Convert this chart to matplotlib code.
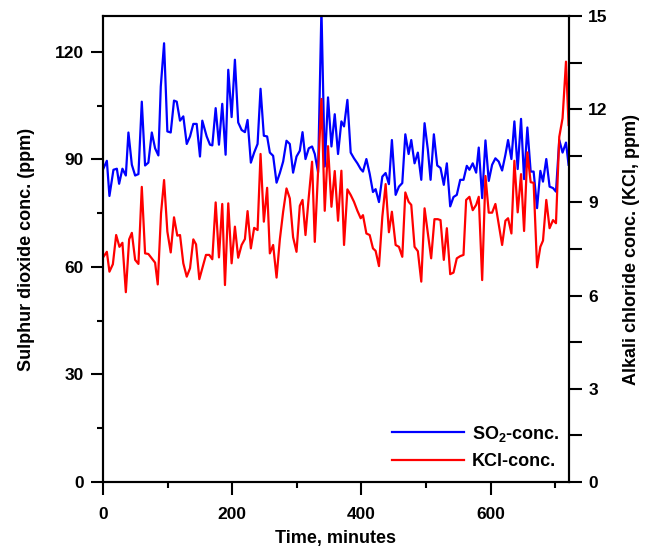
import matplotlib
matplotlib.use("Agg")
import matplotlib.pyplot as plt
from matplotlib.ticker import MultipleLocator

plt.rcParams['font.family'] = ['Liberation Sans', 'DejaVu Sans']
plt.rcParams['font.weight'] = 'bold'
plt.rcParams['mathtext.fontset'] = 'custom'
plt.rcParams['mathtext.rm'] = 'Liberation Sans:bold'
plt.rcParams['mathtext.default'] = 'rm'

# SO2 (left axis, ppm)
t_so2 = [0.5, 5.7, 9.7, 15.9, 21.2, 24.7, 29.8, 35.1, 39.1, 44.4, 49.5, 54.6, 59.8,
         64.9, 70, 75.3, 80.4, 85.5, 89.2, 94.3, 99.4, 104.6, 109.7, 113.9, 119, 124.1,
         129.4, 134.5, 139.6, 144.8, 149.9, 153.5, 160.3, 165.4, 169, 174.2, 179.3,
         184.4, 189.6, 193.7, 198.9, 204, 209.1, 214.4, 219.5, 223.6, 228.7, 233.8,
         239.1, 243.7, 248.8, 253.9, 258.1, 263.2, 268.5, 273.6, 278.7, 283.9, 289,
         294.1, 299.4, 304.5, 308.7, 313.3, 318.4, 323.5, 327.7, 332.8, 338, 343.1,
         348.2, 353.5, 358.6, 363.7, 368.9, 373.0, 378.2, 383.3, 388.4, 393.7, 398.8,
         402.3, 407.6, 412.7, 417.8, 421.9, 427.1, 432.3, 437.4, 442.5, 447.1, 452.9,
         458, 463.2, 467.9, 473, 477.1, 482.2, 487.3, 492.6, 497.7, 502.8, 507, 512.1,
         517.3, 522.4, 527.5, 532.2, 537.4, 542.5, 547.6, 552.9, 558, 563.1, 567.2,
         572.3, 577.6, 581.6, 586.9, 592, 597.1, 602.3, 607.4, 612.5, 617.8, 622.9,
         627, 632.2, 636.8, 641.9, 647.1, 651.8, 656.9, 662, 666.6, 671.9, 677, 681.1,
         686.2, 691.3, 696.6, 701.2, 706.3, 711.4, 716.7, 720.7]
so2 = [87.5, 89.6, 79.8, 87.1, 87.4, 83.2, 87.4, 85.5, 97.5, 88.5, 85.5, 85.9, 106.1,
       88.3, 89.1, 97.5, 93.1, 91.1, 110.3, 122.4, 97.8, 97.5, 106.4, 106.1, 100.8, 102,
       94.3, 96.4, 99.9, 99.9, 90.8, 100.8, 96.4, 94.1, 93.9, 104.3, 94.1,
       105.5, 91.3, 115, 101.8, 117.8, 100.3, 98.2, 97.6, 101, 89.1, 91.9,
       94.3, 109.7, 96.6, 96.4, 91.9, 91, 83.5, 86.2, 89.4, 95.2, 94.3,
       86.3, 90.8, 92.4, 97.6, 90.1, 93.1, 93.6, 91.5, 86.4, 132, 88,
       107.3, 93.6, 102.6, 91.5, 100.6, 99.2, 106.6, 91.9, 90.3, 88.9, 87.3,
       86.6, 90.1, 86, 80.9, 81.7, 78.1, 85.2, 86.2, 83.1, 95.4, 80.1,
       82.4, 83.4, 97, 91.5, 95.4, 88.9, 91.9, 84.3, 100.1, 92.7, 84.3, 97,
       88.3, 87.6, 82.9, 88.9, 76.9, 79.5, 80.1, 84.3, 84.3, 88.2, 87.1,
       88.9, 86.3, 93.3, 79.2, 95.3, 84, 88.5, 90.3, 89.4, 86.9, 91.3,
       95.4, 90.1, 100.6, 87.3, 101.3, 84.5, 98.9, 86.6, 86.6, 76.4, 86.8, 83.8,
       90.1, 82.4, 82, 81, 95.4, 91.9, 94.7, 88.5]

# KCl (right axis, ppm)
t_kcl = [0.5, 5.7, 9.7, 15.0, 20.1, 25.2, 29.8, 35.1, 40.2, 44.4, 49.5, 54.6, 59.8,
         64.9, 70, 75.3, 80.4, 84.5, 89.6, 94.3, 99.4, 104.6, 109.7, 114.8, 119, 124.1,
         129.4, 134.5, 139.6, 143.8, 148.9, 154.1, 159.2, 164.3, 169, 174.2, 179.3,
         184.4, 188.6, 193.7, 198.9, 204, 209.1, 214.4, 219.5, 223.6, 228.7, 233.8,
         239.1, 243.7, 248.8, 253.9, 258.1, 263.2, 268.5, 273.6, 278.7, 283.9, 289,
         294.1, 299.4, 304.5, 308.7, 313.3, 318.4, 323.5, 327.7, 332.8, 338, 343.1,
         348.2, 353.5, 358.6, 363.7, 368.9, 373, 378.2, 383.3, 388.4, 393.7, 398.8,
         402.3, 407.6, 412.7, 417.8, 421.9, 427.1, 432.3, 437.4, 442.5, 447.1, 452.9,
         458, 463.2, 467.9, 473, 477.1, 482.2, 487.3, 492.6, 497.7, 502.8, 507.9, 513,
         518.2, 522.4, 527.5, 532.2, 537.4, 542.5, 547.6, 552.9, 558, 562.1, 567.2,
         572.3, 577.6, 581.6, 586.9, 592, 597.1, 602.3, 607.4, 612.5, 617.8, 622.9,
         627, 632.2, 636.8, 641.9, 647.1, 651.8, 656.9, 662, 666.6, 671.9, 677, 681.1,
         686.2, 691.3, 696.6, 701.2, 706.3, 711.4, 716.7, 720.7]
kcl = [7.25, 7.41, 6.77, 7.01, 7.95, 7.57, 7.70, 6.11, 7.81, 8.02, 7.15, 7.02, 9.50,
       7.36, 7.34, 7.20, 7.06, 6.36, 8.65, 9.72, 8.06, 7.39, 8.52, 7.93, 7.95, 7.04,
       6.61, 6.88, 7.81, 7.65, 6.53, 6.93, 7.31, 7.31, 7.17, 9.00, 7.23,
       8.95, 6.34, 8.97, 7.04, 8.22, 7.22, 7.63, 7.82, 8.72, 7.52, 8.18,
       8.11, 10.56, 8.38, 9.47, 7.36, 7.63, 6.58, 7.81, 8.70, 9.45, 9.13,
       7.88, 7.41, 8.89, 9.08, 7.95, 9.18, 10.31, 7.73, 10.04, 12.33, 8.73,
       10.81, 8.86, 10.01, 8.41, 10.02, 7.63, 9.42, 9.24, 9.02, 8.73, 8.49,
       8.59, 8.00, 7.95, 7.52, 7.44, 6.95, 8.54, 9.59, 8.04, 8.70, 7.63,
       7.57, 7.25, 9.32, 9.02, 8.92, 7.57, 7.43, 6.45, 8.81, 8.00, 7.20, 8.46,
       8.46, 8.43, 7.15, 8.17, 6.69, 6.74, 7.20, 7.27, 7.31, 9.08, 9.18,
       8.75, 8.92, 9.18, 6.50, 9.85, 8.67, 8.67, 8.95, 8.30, 7.63, 8.41,
       8.49, 8.00, 10.34, 8.68, 9.91, 8.08, 10.61, 9.65, 9.63, 6.91, 7.57, 7.77,
       9.08, 8.17, 8.43, 8.33, 11.11, 11.71, 13.53, 11.49]

fig = plt.figure(figsize=(6.53, 5.48), dpi=100)
ax = fig.add_axes([0.158, 0.1204, 0.713, 0.8504])
ax2 = ax.twinx()

l1, = ax.plot(t_so2, so2, color='#0000ff', lw=1.6, label=r'SO$_2$-conc.')
l2, = ax2.plot(t_kcl, kcl, color='#ff0000', lw=1.6, label='KCl-conc.')

ax.set_xlim(0, 721)
ax.set_ylim(0, 130)
ax2.set_ylim(0, 15)
ax.set_xticks([0, 200, 400, 600])
ax.xaxis.set_minor_locator(MultipleLocator(100))
ax.set_yticks([0, 30, 60, 90, 120])
ax.yaxis.set_minor_locator(MultipleLocator(15))
ax2.set_yticks([0, 3, 6, 9, 12, 15])
ax2.yaxis.set_minor_locator(MultipleLocator(1.5))

for a in (ax, ax2):
    for s in a.spines.values():
        s.set_linewidth(1.5)
    a.tick_params(which='major', direction='out', length=9, width=1.5,
                  labelsize=12.5, pad=5)
    a.tick_params(which='minor', direction='out', length=4.5, width=1.5)
ax.tick_params(axis='x', which='both', top=False)
ax.tick_params(axis='x', which='major', pad=9)
ax2.tick_params(axis='y', which='minor', length=9)

ax.set_xlabel('Time, minutes', fontsize=13, fontweight='bold', labelpad=6)
ax.set_ylabel('Sulphur dioxide conc. (ppm)', fontsize=13, fontweight='bold', labelpad=14)
ax2.set_ylabel('Alkali chloride conc. (KCl, ppm)', fontsize=13, fontweight='bold', labelpad=11)

ax2.legend([l1, l2], [l1.get_label(), l2.get_label()], loc='lower right',
           bbox_to_anchor=(1.015, -0.01), frameon=False, fontsize=13,
           handlelength=4.0, handletextpad=0.45, labelspacing=0.55)

fig.savefig('out.png', dpi=100)
